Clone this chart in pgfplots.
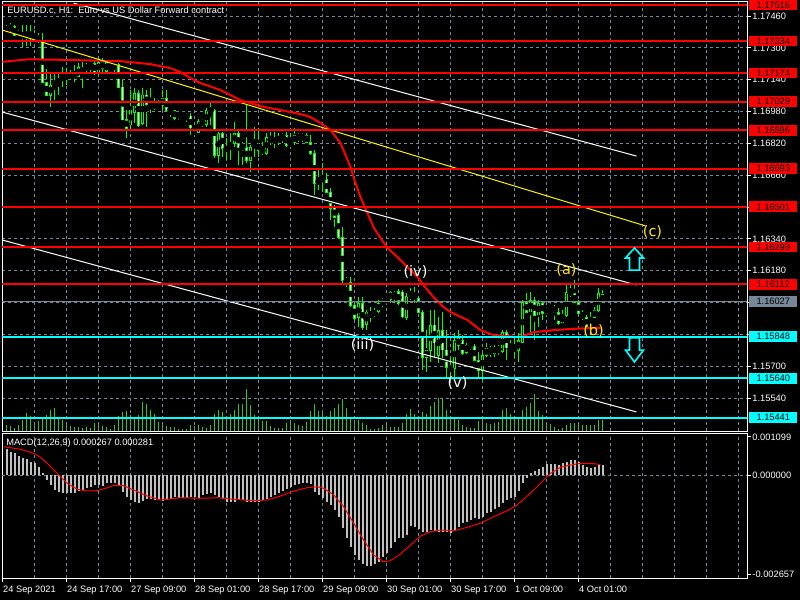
\documentclass[border=0pt]{standalone}
\usepackage{pgfplots}
\pgfplotsset{compat=1.18}
\usepackage{pgfplotstable}
\usepackage{fontspec}
\setmainfont{Liberation Sans}
\newfontfamily\wavefont{DejaVu Sans}
\newcommand\ui{\fontsize{6.6}{8}\selectfont}
\newcommand\wl{\wavefont\fontsize{10.3}{12}\selectfont}

\definecolor{candle}{RGB}{0,255,0}
\definecolor{volc}{RGB}{40,200,40}
\definecolor{mtred}{RGB}{255,0,0}
\definecolor{mtcyan}{RGB}{0,255,255}
\definecolor{silv}{RGB}{192,192,192}
\definecolor{slate}{RGB}{119,136,153}
\definecolor{wavey}{RGB}{255,230,0}

% H1 candles, k = bar number from the left edge
\pgfplotstableread{
k o h l c
0 1.17387 1.17414 1.17379 1.17402
1 1.17394 1.17424 1.17374 1.17409
2 1.17409 1.17414 1.17359 1.17364
3 1.17364 1.17389 1.17354 1.17379
4 1.17374 1.17414 1.17304 1.17354
5 1.17354 1.17414 1.17309 1.17379
6 1.17379 1.17414 1.17309 1.17354
7 1.17354 1.17389 1.17329 1.17359
8 1.17359 1.17374 1.17324 1.17334
9 1.17334 1.17374 1.17128 1.17128
10 1.17128 1.17193 1.17058 1.17063
11 1.17063 1.17178 1.17002 1.17113
12 1.17113 1.17173 1.17037 1.17128
13 1.17128 1.17178 1.17063 1.17138
14 1.17133 1.17203 1.17103 1.17163
15 1.17163 1.17198 1.17113 1.17158
16 1.17158 1.17188 1.17138 1.17168
17 1.17168 1.17213 1.17128 1.17158
18 1.17158 1.17223 1.17153 1.17203
19 1.17203 1.17228 1.17098 1.17173
20 1.17188 1.17223 1.17178 1.17213
21 1.17208 1.17233 1.17178 1.17223
22 1.17223 1.17238 1.17163 1.17178
23 1.17178 1.17254 1.17163 1.17228
24 1.17228 1.17248 1.17173 1.17198
25 1.17183 1.17238 1.17173 1.17228
26 1.17228 1.17233 1.17198 1.17208
27 1.17208 1.17233 1.17178 1.17223
28 1.17218 1.17223 1.17103 1.17103
29 1.17103 1.17138 1.16937 1.16937
30 1.16942 1.16987 1.16846 1.16897
31 1.16912 1.17088 1.16897 1.16987
32 1.16977 1.17098 1.16922 1.17073
33 1.17073 1.17088 1.16902 1.16912
34 1.16922 1.17098 1.16912 1.17063
35 1.17063 1.17088 1.16902 1.17017
36 1.17017 1.17098 1.16972 1.16997
37 1.16997 1.17047 1.16987 1.17022
38 1.17022 1.17037 1.16997 1.17007
39 1.17012 1.17088 1.16987 1.17047
40 1.17047 1.17088 1.16977 1.16987
41 1.16987 1.17002 1.16952 1.16992
42 1.16987 1.16987 1.16937 1.16947
43 1.16952 1.16977 1.16937 1.16972
44 1.16972 1.16977 1.16947 1.16957
45 1.16957 1.16972 1.16927 1.16952
46 1.16957 1.16972 1.16861 1.16897
47 1.16897 1.16902 1.16851 1.16882
48 1.16877 1.16942 1.16872 1.16932
49 1.16932 1.16942 1.16902 1.16917
50 1.16917 1.16997 1.16902 1.16987
51 1.16987 1.17022 1.16912 1.16983
52 1.16987 1.16992 1.16746 1.16761
53 1.16761 1.16877 1.16721 1.16872
54 1.16872 1.16877 1.16751 1.16796
55 1.16786 1.16846 1.16736 1.16801
56 1.16801 1.16872 1.16736 1.16821
57 1.16821 1.16927 1.16801 1.16872
58 1.16872 1.16887 1.16711 1.16801
59 1.16801 1.16826 1.16711 1.16807
60 1.16801 1.17012 1.16721 1.16736
61 1.16736 1.16811 1.16676 1.16801
62 1.16801 1.16902 1.16751 1.16821
63 1.16821 1.16897 1.16751 1.16786
64 1.16796 1.16826 1.16761 1.16771
65 1.16771 1.16872 1.16761 1.16851
66 1.16851 1.16877 1.16811 1.16826
67 1.16831 1.16877 1.16796 1.16836
68 1.16836 1.16872 1.16811 1.16846
69 1.16846 1.16872 1.16821 1.16861
70 1.16861 1.16877 1.16801 1.16811
71 1.16811 1.16872 1.16801 1.16826
72 1.16826 1.16897 1.16811 1.16861
73 1.16861 1.16872 1.16826 1.16846
74 1.16846 1.16872 1.16826 1.16861
75 1.16861 1.16872 1.16821 1.16826
76 1.16826 1.16861 1.16761 1.16771
77 1.16771 1.16786 1.16560 1.16620
78 1.16620 1.16686 1.16585 1.16635
79 1.16635 1.16721 1.16575 1.16645
80 1.16640 1.16670 1.16570 1.16575
81 1.16575 1.16595 1.16434 1.16495
82 1.16495 1.16510 1.16399 1.16449
83 1.16459 1.16469 1.16344 1.16349
84 1.16349 1.16399 1.16108 1.16133
85 1.16133 1.16148 1.16098 1.16123
86 1.16123 1.16148 1.15997 1.16007
87 1.16007 1.16032 1.15932 1.15942
88 1.15947 1.16047 1.15897 1.16017
89 1.16017 1.16047 1.15881 1.15897
90 1.15907 1.15982 1.15881 1.15972
91 1.15972 1.15997 1.15922 1.15952
92 1.15957 1.15992 1.15947 1.15977
93 1.15977 1.16032 1.15967 1.16017
94 1.16017 1.16042 1.15997 1.16032
95 1.16027 1.16047 1.16017 1.16042
96 1.16037 1.16082 1.16022 1.16072
97 1.16047 1.16082 1.16022 1.16072
98 1.16078 1.16088 1.16007 1.16017
99 1.16072 1.16082 1.15942 1.15947
100 1.15947 1.16067 1.15932 1.16052
101 1.16052 1.16093 1.16032 1.16057
102 1.16057 1.16098 1.16017 1.16047
103 1.16042 1.16047 1.15967 1.15972
104 1.15972 1.15982 1.15680 1.15746
105 1.15746 1.15881 1.15670 1.15781
106 1.15781 1.15982 1.15720 1.15907
107 1.15907 1.15982 1.15746 1.15816
108 1.15756 1.15947 1.15715 1.15881
109 1.15881 1.15972 1.15741 1.15781
110 1.15781 1.15881 1.15640 1.15695
111 1.15695 1.15746 1.15630 1.15680
112 1.15690 1.15866 1.15640 1.15831
113 1.15841 1.15881 1.15781 1.15806
114 1.15831 1.15856 1.15756 1.15766
115 1.15771 1.15816 1.15761 1.15806
116 1.15806 1.15821 1.15781 1.15801
117 1.15801 1.15811 1.15726 1.15731
118 1.15731 1.15771 1.15645 1.15680
119 1.15680 1.15766 1.15630 1.15756
120 1.15756 1.15816 1.15746 1.15791
121 1.15791 1.15801 1.15746 1.15766
122 1.15766 1.15806 1.15746 1.15796
123 1.15796 1.15806 1.15756 1.15776
124 1.15776 1.15881 1.15766 1.15871
125 1.15871 1.15881 1.15731 1.15791
126 1.15791 1.15831 1.15771 1.15786
127 1.15786 1.15846 1.15746 1.15791
128 1.15781 1.15866 1.15720 1.15831
129 1.15821 1.16032 1.15816 1.16022
130 1.16022 1.16067 1.15967 1.15972
131 1.15972 1.16072 1.15871 1.16032
132 1.16032 1.16047 1.15831 1.15957
133 1.15957 1.16032 1.15897 1.16017
134 1.16017 1.16022 1.15932 1.15967
135 1.15967 1.15997 1.15947 1.15992
136 1.15992 1.16017 1.15982 1.15997
137 1.15997 1.16007 1.15932 1.15972
138 1.15972 1.15992 1.15907 1.15917
139 1.15922 1.15982 1.15917 1.15952
140 1.15957 1.16108 1.15947 1.16072
141 1.16072 1.16108 1.16047 1.16067
142 1.16067 1.16133 1.16017 1.16022
143 1.16022 1.16032 1.15957 1.15967
144 1.15967 1.15982 1.15932 1.15947
145 1.15947 1.15957 1.15892 1.15897
146 1.15917 1.15972 1.15892 1.15947
147 1.15947 1.15997 1.15942 1.15982
148 1.15982 1.16093 1.15972 1.16067
149 1.16062 1.16082 1.16017 1.16027
}\candles

% tick volume (relative heights)
\pgfplotstableread{
k v
0 6
1 5
2 3
3 6
4 11
5 18
6 15
7 9
8 10
9 14
10 16
11 21
12 23
13 14
14 11
15 8
16 5
17 4
18 4
19 3
20 4
21 3
22 8
23 8
24 5
25 4
26 2
27 6
28 15
29 19
30 20
31 16
32 12
33 16
34 29
35 27
36 21
37 17
38 9
39 8
40 5
41 4
42 4
43 2
44 2
45 2
46 6
47 5
48 6
49 4
50 3
51 6
52 17
53 21
54 19
55 15
56 17
57 21
58 27
59 27
60 42
61 26
62 16
63 14
64 10
65 10
66 5
67 3
68 3
69 3
70 8
71 11
72 8
73 6
74 5
75 9
76 20
77 27
78 20
79 20
80 15
81 20
82 23
83 27
84 32
85 23
86 14
87 11
88 11
89 8
90 6
91 2
92 2
93 3
94 6
95 9
96 4
97 4
98 4
99 8
100 17
101 22
102 17
103 13
104 19
105 17
106 25
107 29
108 33
109 33
110 21
111 14
112 14
113 11
114 6
115 4
116 3
117 3
118 10
119 14
120 8
121 7
122 8
123 9
124 21
125 23
126 17
127 15
128 14
129 21
130 24
131 28
132 37
133 20
134 16
135 8
136 7
137 4
138 2
139 3
140 6
141 8
142 8
143 7
144 6
145 6
146 6
147 6
148 11
149 11
}\volume

% MACD main (histogram)
\pgfplotstableread{
k m
0 0.000690
1 0.000625
2 0.000582
3 0.000510
4 0.000464
5 0.000421
6 0.000357
7 0.000330
8 0.000223
9 0.000046
10 -0.000134
11 -0.000276
12 -0.000403
13 -0.000448
14 -0.000475
15 -0.000475
16 -0.000475
17 -0.000475
18 -0.000421
19 -0.000403
20 -0.000357
21 -0.000314
22 -0.000268
23 -0.000268
24 -0.000295
25 -0.000223
26 -0.000207
27 -0.000223
28 -0.000268
29 -0.000448
30 -0.000599
31 -0.000671
32 -0.000717
33 -0.000743
34 -0.000690
35 -0.000652
36 -0.000652
37 -0.000671
38 -0.000671
39 -0.000690
40 -0.000671
41 -0.000636
42 -0.000599
43 -0.000625
44 -0.000625
45 -0.000625
46 -0.000599
47 -0.000599
48 -0.000609
49 -0.000537
50 -0.000510
51 -0.000475
52 -0.000537
53 -0.000599
54 -0.000652
55 -0.000717
56 -0.000717
57 -0.000717
58 -0.000671
59 -0.000671
60 -0.000717
61 -0.000717
62 -0.000717
63 -0.000717
64 -0.000671
65 -0.000652
66 -0.000599
67 -0.000537
68 -0.000475
69 -0.000421
70 -0.000384
71 -0.000314
72 -0.000268
73 -0.000242
74 -0.000207
75 -0.000207
76 -0.000242
77 -0.000448
78 -0.000537
79 -0.000625
80 -0.000717
81 -0.000805
82 -0.000939
83 -0.001119
84 -0.001431
85 -0.001699
86 -0.001924
87 -0.002147
88 -0.002281
89 -0.002389
90 -0.002434
91 -0.002434
92 -0.002389
93 -0.002327
94 -0.002209
95 -0.002085
96 -0.001967
97 -0.001790
98 -0.001699
99 -0.001699
100 -0.001610
101 -0.001369
102 -0.001388
103 -0.001457
104 -0.001522
105 -0.001522
106 -0.001476
107 -0.001495
108 -0.001522
109 -0.001522
110 -0.001522
111 -0.001549
112 -0.001476
113 -0.001388
114 -0.001296
115 -0.001253
116 -0.001208
117 -0.001162
118 -0.001189
119 -0.001119
120 -0.001028
121 -0.000985
122 -0.000921
123 -0.000867
124 -0.000760
125 -0.000671
126 -0.000625
127 -0.000582
128 -0.000421
129 -0.000223
130 -0.000089
131 0.000062
132 0.000115
133 0.000153
134 0.000207
135 0.000287
136 0.000295
137 0.000295
138 0.000268
139 0.000330
140 0.000357
141 0.000403
142 0.000403
143 0.000357
144 0.000268
145 0.000223
146 0.000196
147 0.000223
148 0.000287
149 0.000267
}\macd

% MACD signal line
\pgfplotstableread{
k s
-0.67 0.000760
3.5 0.000690
6.8 0.000582
8.5 0.000475
10.2 0.000314
11.8 0.000134
13.5 -0.000046
15.2 -0.000223
17.7 -0.000384
20.2 -0.000429
22.7 -0.000421
25.2 -0.000341
26.8 -0.000276
29.3 -0.000287
31.8 -0.000403
35.2 -0.000564
38.5 -0.000671
43.5 -0.000609
48.5 -0.000625
52.7 -0.000609
56.8 -0.000652
61.8 -0.000690
65.2 -0.000671
68.5 -0.000564
71.8 -0.000429
75.2 -0.000341
77.7 -0.000314
79.3 -0.000357
81.8 -0.000537
84.3 -0.000851
86.8 -0.001296
89.3 -0.001745
91.8 -0.002147
94.3 -0.002327
96 -0.002300
98.5 -0.002120
101 -0.001879
103.5 -0.001637
106 -0.001522
108.5 -0.001476
111.8 -0.001495
115.2 -0.001404
118.5 -0.001296
121.8 -0.001119
125.2 -0.000958
127.25 -0.000832
129.3 -0.000652
131.8 -0.000403
134.3 -0.000134
136 0.000046
138.5 0.000207
141 0.000268
143.5 0.000314
146 0.000314
148.5 0.000281
}\signal

% moving average on price
\pgfplotstableread{
k p
-1 1.17230
5.25 1.17242
11 1.17241
28.5 1.17233
31 1.17228
36 1.17218
41 1.17198
43.5 1.17178
46 1.17148
48.5 1.17123
53.5 1.17088
58.5 1.17037
63.5 1.17007
68.5 1.16987
73.5 1.16967
76 1.16952
78.5 1.16922
81 1.16887
83.5 1.16821
86 1.16701
87.25 1.16620
88.5 1.16550
90.25 1.16469
91.75 1.16399
93.5 1.16344
95.25 1.16294
97.75 1.16248
100.25 1.16198
102.75 1.16148
104.25 1.16108
106.75 1.16047
109.25 1.15997
111 1.15972
115.25 1.15932
118.5 1.15881
121.75 1.15856
125.25 1.15851
128.5 1.15846
131.75 1.15871
136.75 1.15881
140.25 1.15886
145.25 1.15891
148.5 1.15891
}\ma

\pgfplotsset{
  mt/.style={
    scale only axis, width=18.625cm,
    xmin=-1.125, xmax=185.125,
    clip mode=individual,
    axis line style={white, line width=0.025cm},
    xtick={-1,15,...,143},
    minor xtick={7,23,...,183,159,175},
    xmajorgrids, xminorgrids,
    grid style={slate, line width=0.025cm, dash pattern=on 0.075cm off 0.075cm},
    minor grid style={slate, line width=0.025cm, dash pattern=on 0.075cm off 0.075cm},
    ytick pos=right, yticklabel pos=right,
    tick align=outside, major tick length=0.1cm, minor tick length=0pt,
    ytick style={white, line width=0.025cm},
    scaled y ticks=false,
    /pgf/number format/assume math mode=true,
    yticklabel style={font=\ui, text=white, anchor=west, inner sep=0pt, xshift=0.03cm},
  },
  candlebar/.style={only marks, mark=none, forget plot,
    error bars/.cd, y dir=both, y explicit, error mark=none},
}
\tikzset{
  pbox/.style={anchor=west, xshift=0.05cm, minimum width=1.2cm, minimum height=0.27cm,
    inner sep=0pt, font=\ui, text=black},
}

\begin{document}
\begin{tikzpicture}
\fill[black] (0,0) rectangle (20,-15);
\useasboundingbox (0,0) rectangle (20,-15);

% volumes, own scale
\begin{axis}[at={(0.05cm,-10.775cm)}, anchor=south west, scale only axis,
  width=18.625cm, height=10.75cm, xmin=-1.125, xmax=185.125, ymin=0, ymax=430, hide axis]
\addplot[volc, ycomb, line width=0.03cm, mark=none] table[x=k, y=v] {\volume};
\end{axis}

% price window
\begin{axis}[mt, at={(0.05cm,-10.775cm)}, anchor=south west, height=10.75cm,
  ymin=1.153742, ymax=1.175354,
  xticklabels={}, xtick style={draw=none},
  ytick={1.15540,1.15700,1.15860,1.16020,1.16180,1.16340,1.16500,1.16660,1.16820,1.16980,1.17140,1.17300,1.17460},
  yticklabels={1.15540,1.15700,,,1.16180,1.16340,,1.16660,1.16820,1.16980,1.17140,1.17300,1.17460},
  ymajorgrids,
]
% wicks
\addplot[candlebar, error bar style={draw=candle, line width=0.035cm}]
  table[x=k, y expr={(\thisrow{h}+\thisrow{l})/2}, y error expr={(\thisrow{h}-\thisrow{l})/2}] {\candles};
% bodies
\addplot[candlebar, error bar style={draw=candle, line width=0.09cm}]
  table[x=k, y expr={(\thisrow{o}+\thisrow{c})/2}, y error expr={abs(\thisrow{o}-\thisrow{c})/2+0.00002}] {\candles};
% bear bodies white inside
\addplot[restrict expr to domain={\thisrow{o}-\thisrow{c}}{0.00001:1},
  candlebar, error bar style={draw=white, line width=0.04cm}]
  table[x=k, y expr={(\thisrow{o}+\thisrow{c})/2}, y error expr={max(abs(\thisrow{o}-\thisrow{c})/2-0.00002,0)}] {\candles};
% bull bodies black inside
\addplot[restrict expr to domain={\thisrow{c}-\thisrow{o}}{0.00001:1},
  candlebar, error bar style={draw=black, line width=0.035cm}]
  table[x=k, y expr={(\thisrow{o}+\thisrow{c})/2}, y error expr={max(abs(\thisrow{o}-\thisrow{c})/2-0.00002,0)}] {\candles};

% moving average
\addplot[mtred, line width=0.05cm, mark=none] table[x=k, y=p] {\ma};

% channel and trend lines
\addplot[white, line width=0.025cm, mark=none] coordinates {(16.75,1.17525) (157.5,1.16756)};
\addplot[white, line width=0.025cm, mark=none] coordinates {(-1,1.16977) (157.5,1.16108)};
\addplot[white, line width=0.025cm, mark=none] coordinates {(-1,1.16334) (157.5,1.15470)};
\addplot[yellow, line width=0.025cm, mark=none] coordinates {(-1,1.17389) (159.75,1.16405)};

% horizontal levels
\pgfplotsinvokeforeach{1.17516,1.17334,1.17174,1.17029,1.16886,1.16693,1.16501,1.16299,1.16112}{
  \addplot[mtred, line width=0.05cm, mark=none] coordinates {(-1.2,#1) (185.2,#1)};
}
\addplot[slate, line width=0.025cm, mark=none] coordinates {(-1.2,1.16027) (185.2,1.16027)};
\pgfplotsinvokeforeach{1.15848,1.15640,1.15441}{
  \addplot[mtcyan, line width=0.05cm, mark=none] coordinates {(-1.2,#1) (185.2,#1)};
}

% arrows
\addplot[mtcyan, line width=0.04cm, mark=none] coordinates {
  (157,1.16294) (159.25,1.16244) (158.25,1.16244) (158.25,1.16183)
  (155.75,1.16183) (155.75,1.16244) (154.75,1.16244)} --cycle;
\addplot[mtcyan, line width=0.04cm, mark=none] coordinates {
  (157,1.15721) (159.25,1.15781) (158.25,1.15781) (158.25,1.15842)
  (155.75,1.15842) (155.75,1.15781) (154.75,1.15781)} --cycle;

% wave labels
\node[font=\wl, text=white] at (axis cs:89,1.15806) {(iii)};
\node[font=\wl, text=white] at (axis cs:102.25,1.16173) {(iv)};
\node[font=\wl, text=white] at (axis cs:112.75,1.15615) {(v)};
\node[font=\wl, text=wavey] at (axis cs:140,1.16183) {(a)};
\node[font=\wl, text=wavey] at (axis cs:146.75,1.15877) {(b)};
\node[font=\wl, text=wavey] at (axis cs:161.5,1.16374) {(c)};

% price boxes
\node[pbox, fill=mtred] at (axis cs:185.125,1.17516) {1.17516};
\node[pbox, fill=mtred] at (axis cs:185.125,1.17334) {1.17334};
\node[pbox, fill=mtred] at (axis cs:185.125,1.17174) {1.17174};
\node[pbox, fill=mtred] at (axis cs:185.125,1.17029) {1.17029};
\node[pbox, fill=mtred] at (axis cs:185.125,1.16886) {1.16886};
\node[pbox, fill=mtred] at (axis cs:185.125,1.16693) {1.16693};
\node[pbox, fill=mtred] at (axis cs:185.125,1.16501) {1.16501};
\node[pbox, fill=mtred] at (axis cs:185.125,1.16299) {1.16299};
\node[pbox, fill=mtred] at (axis cs:185.125,1.16112) {1.16112};
\node[pbox, fill=slate] at (axis cs:185.125,1.16027) {1.16027};
\node[pbox, fill=mtcyan] at (axis cs:185.125,1.15848) {1.15848};
\node[pbox, fill=mtcyan] at (axis cs:185.125,1.15640) {1.15640};
\node[pbox, fill=mtcyan] at (axis cs:185.125,1.15441) {1.15441};
\end{axis}

% MACD window
\begin{axis}[mt, at={(0.05cm,-14.45cm)}, anchor=south west, height=3.625cm,
  ymin=-0.002764, ymax=0.001127,
  xtick pos=bottom,
  xtick style={white, line width=0.025cm},
  xticklabels={24 Sep 2021,24 Sep 17:00,27 Sep 09:00,28 Sep 01:00,28 Sep 17:00,29 Sep 09:00,30 Sep 01:00,30 Sep 17:00,1 Oct 09:00,4 Oct 01:00},
  xticklabel style={font=\ui, text=white, anchor=north west, inner sep=0pt, xshift=0.01cm, yshift=-0.1cm},
  ytick={-0.002657,0,0.00102},
  yticklabels={-0.002657,0.000000,0.001099},
]
\addplot[slate, line width=0.025cm, dash pattern=on 0.075cm off 0.075cm, mark=none] coordinates {(-1.2,0) (185.2,0)};
\addplot[silv, ycomb, line width=0.05cm, mark=none] table[x=k, y=m] {\macd};
\addplot[mtred, line width=0.025cm, mark=none] table[x=k, y=s] {\signal};
\end{axis}

\node[anchor=base west, inner sep=0pt, font=\ui, text=white] at (0.175cm,-0.3325cm)
  {EURUSD.c, H1:\ \ Euro vs US Dollar Forward contract};
\node[anchor=base west, inner sep=0pt, font=\ui, text=white] at (0.15cm,-11.125cm)
  {MACD(12,26,9) 0.000267 0.000281};
\end{tikzpicture}
\end{document}
